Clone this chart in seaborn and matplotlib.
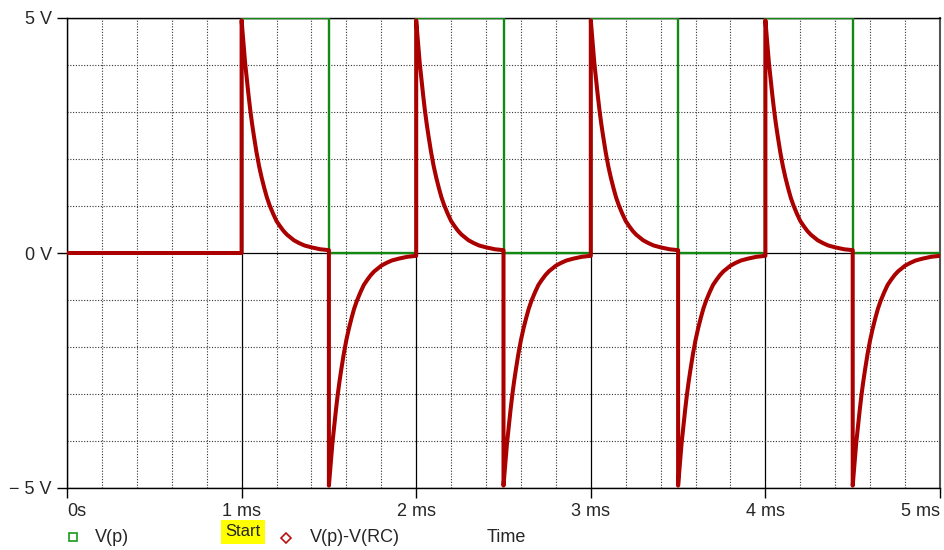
import numpy as np
import pandas as pd
import matplotlib
matplotlib.use("Agg")
import matplotlib.pyplot as plt
import seaborn as sns
from matplotlib.lines import Line2D
from matplotlib.ticker import MultipleLocator

# ---- data ----
pulse_t = [0, 1, 1, 1.5, 1.5, 2, 2, 2.5, 2.5, 3, 3, 3.5, 3.5, 4, 4, 4.5, 4.5, 5]   # ms
pulse_v = [0, 0, 5, 5, 0, 0, 5, 5, 0, 0, 5, 5, 0, 0, 5, 5, 0, 0]                     # V

# V(p)-V(RC): flat before the first edge
rc_start_t = [0, 1]
rc_start_v = [0, 0]
# decay after each edge (time after edge in ms, magnitude in V)
decay_dt = [0, 0.005, 0.01, 0.02, 0.03, 0.04, 0.05, 0.06, 0.07, 0.085, 0.1, 0.115,
            0.13, 0.145, 0.16, 0.18, 0.2, 0.22, 0.24, 0.26, 0.28, 0.3, 0.33, 0.36,
            0.4, 0.45, 0.5]
decay_v = [4.95, 4.72, 4.5, 4.05, 3.7, 3.35, 3.03, 2.75, 2.5, 2.15, 1.85, 1.6,
           1.38, 1.18, 1.02, 0.84, 0.68, 0.57, 0.47, 0.39, 0.33, 0.27, 0.21, 0.16,
           0.12, 0.08, 0.06]
edge_t = [1, 1.5, 2, 2.5, 3, 3.5, 4, 4.5]
edge_sign = [1, -1, 1, -1, 1, -1, 1, -1]

x_ticks = [0, 1, 2, 3, 4, 5]
x_labels = ["0s", "1 ms", "2 ms", "3 ms", "4 ms", "5 ms"]
y_ticks = [-5, 0, 5]
y_labels = ["\u2212 5 V", "0 V", "5 V"]

# ---- build tables ----
rc_t = list(rc_start_t)
rc_v = list(rc_start_v)
for e, s in zip(edge_t, edge_sign):
    for dt, dv in zip(decay_dt, decay_v):
        rc_t.append(e + dt)
        rc_v.append(s * dv)
df_p = pd.DataFrame({"t": pulse_t, "v": pulse_v})
df_rc = pd.DataFrame({"t": rc_t, "v": rc_v})

sns.set_style("white")
plt.rcParams["font.family"] = ["Liberation Sans", "DejaVu Sans"]

fig = plt.figure(figsize=(9.44, 5.5), dpi=100)
ax = fig.add_axes([67 / 944, 1 - 488 / 550, (940 - 67) / 944, (488 - 18) / 550])

# grid
ax.xaxis.set_minor_locator(MultipleLocator(0.2))
ax.yaxis.set_minor_locator(MultipleLocator(1))
ax.grid(which="minor", color="#333333", linestyle=(0, (1, 1.5)), linewidth=0.8)
ax.grid(which="major", color="black", linestyle="-", linewidth=0.9)
ax.set_axisbelow(True)

green = "#128a12"
red = "#aa0000"
sns.lineplot(data=df_p, x="t", y="v", ax=ax, color=green, linewidth=1.7,
             estimator=None, sort=False, zorder=3)
sns.lineplot(data=df_rc, x="t", y="v", ax=ax, color=red, linewidth=2.9,
             estimator=None, sort=False, zorder=4)

ax.set_xlim(0, 5)
ax.set_ylim(-5, 5)
ax.set_xticks(x_ticks)
ax.set_yticks(y_ticks)
ax.set_xticklabels(x_labels, fontsize=13)
ax.set_yticklabels(y_labels, fontsize=13)
xl = ax.get_xticklabels()
xl[0].set_horizontalalignment("left")
xl[-1].set_horizontalalignment("right")
ax.tick_params(axis="both", which="major", direction="out", length=7, width=1,
               color="black", bottom=True, left=True, pad=4)
ax.tick_params(axis="both", which="minor", length=0)
ax.set_xlabel("")
ax.set_ylabel("")
for side in ["left", "bottom", "top"]:
    ax.spines[side].set_color("black")
    ax.spines[side].set_linewidth(1)
ax.spines["right"].set_color("#555555")
ax.spines["right"].set_linewidth(1.5)

# legend-like footer
def fy(y):
    return 1 - y / 550

def fx(x):
    return x / 944

fig.add_artist(Line2D([fx(73)], [fy(537)], marker="s", markersize=6,
                      markerfacecolor="white", markeredgecolor="#1a9a1a",
                      markeredgewidth=1.2, linestyle="none"))
fig.text(fx(95), fy(537), "V(p)", fontsize=13, va="center", ha="left")
fig.text(fx(243), fy(532), "Start", fontsize=12, va="center", ha="center",
         bbox=dict(boxstyle="square,pad=0.28", facecolor="#ffff00", edgecolor="none"))
fig.add_artist(Line2D([fx(286)], [fy(538)], marker="D", markersize=5,
                      markerfacecolor="white", markeredgecolor="#bb1111",
                      markeredgewidth=1.2, linestyle="none"))
fig.text(fx(310), fy(537), "V(p)-V(RC)", fontsize=13, va="center", ha="left")
fig.text(fx(487), fy(537), "Time", fontsize=13, va="center", ha="left")

fig.savefig("out.png", dpi=100)
